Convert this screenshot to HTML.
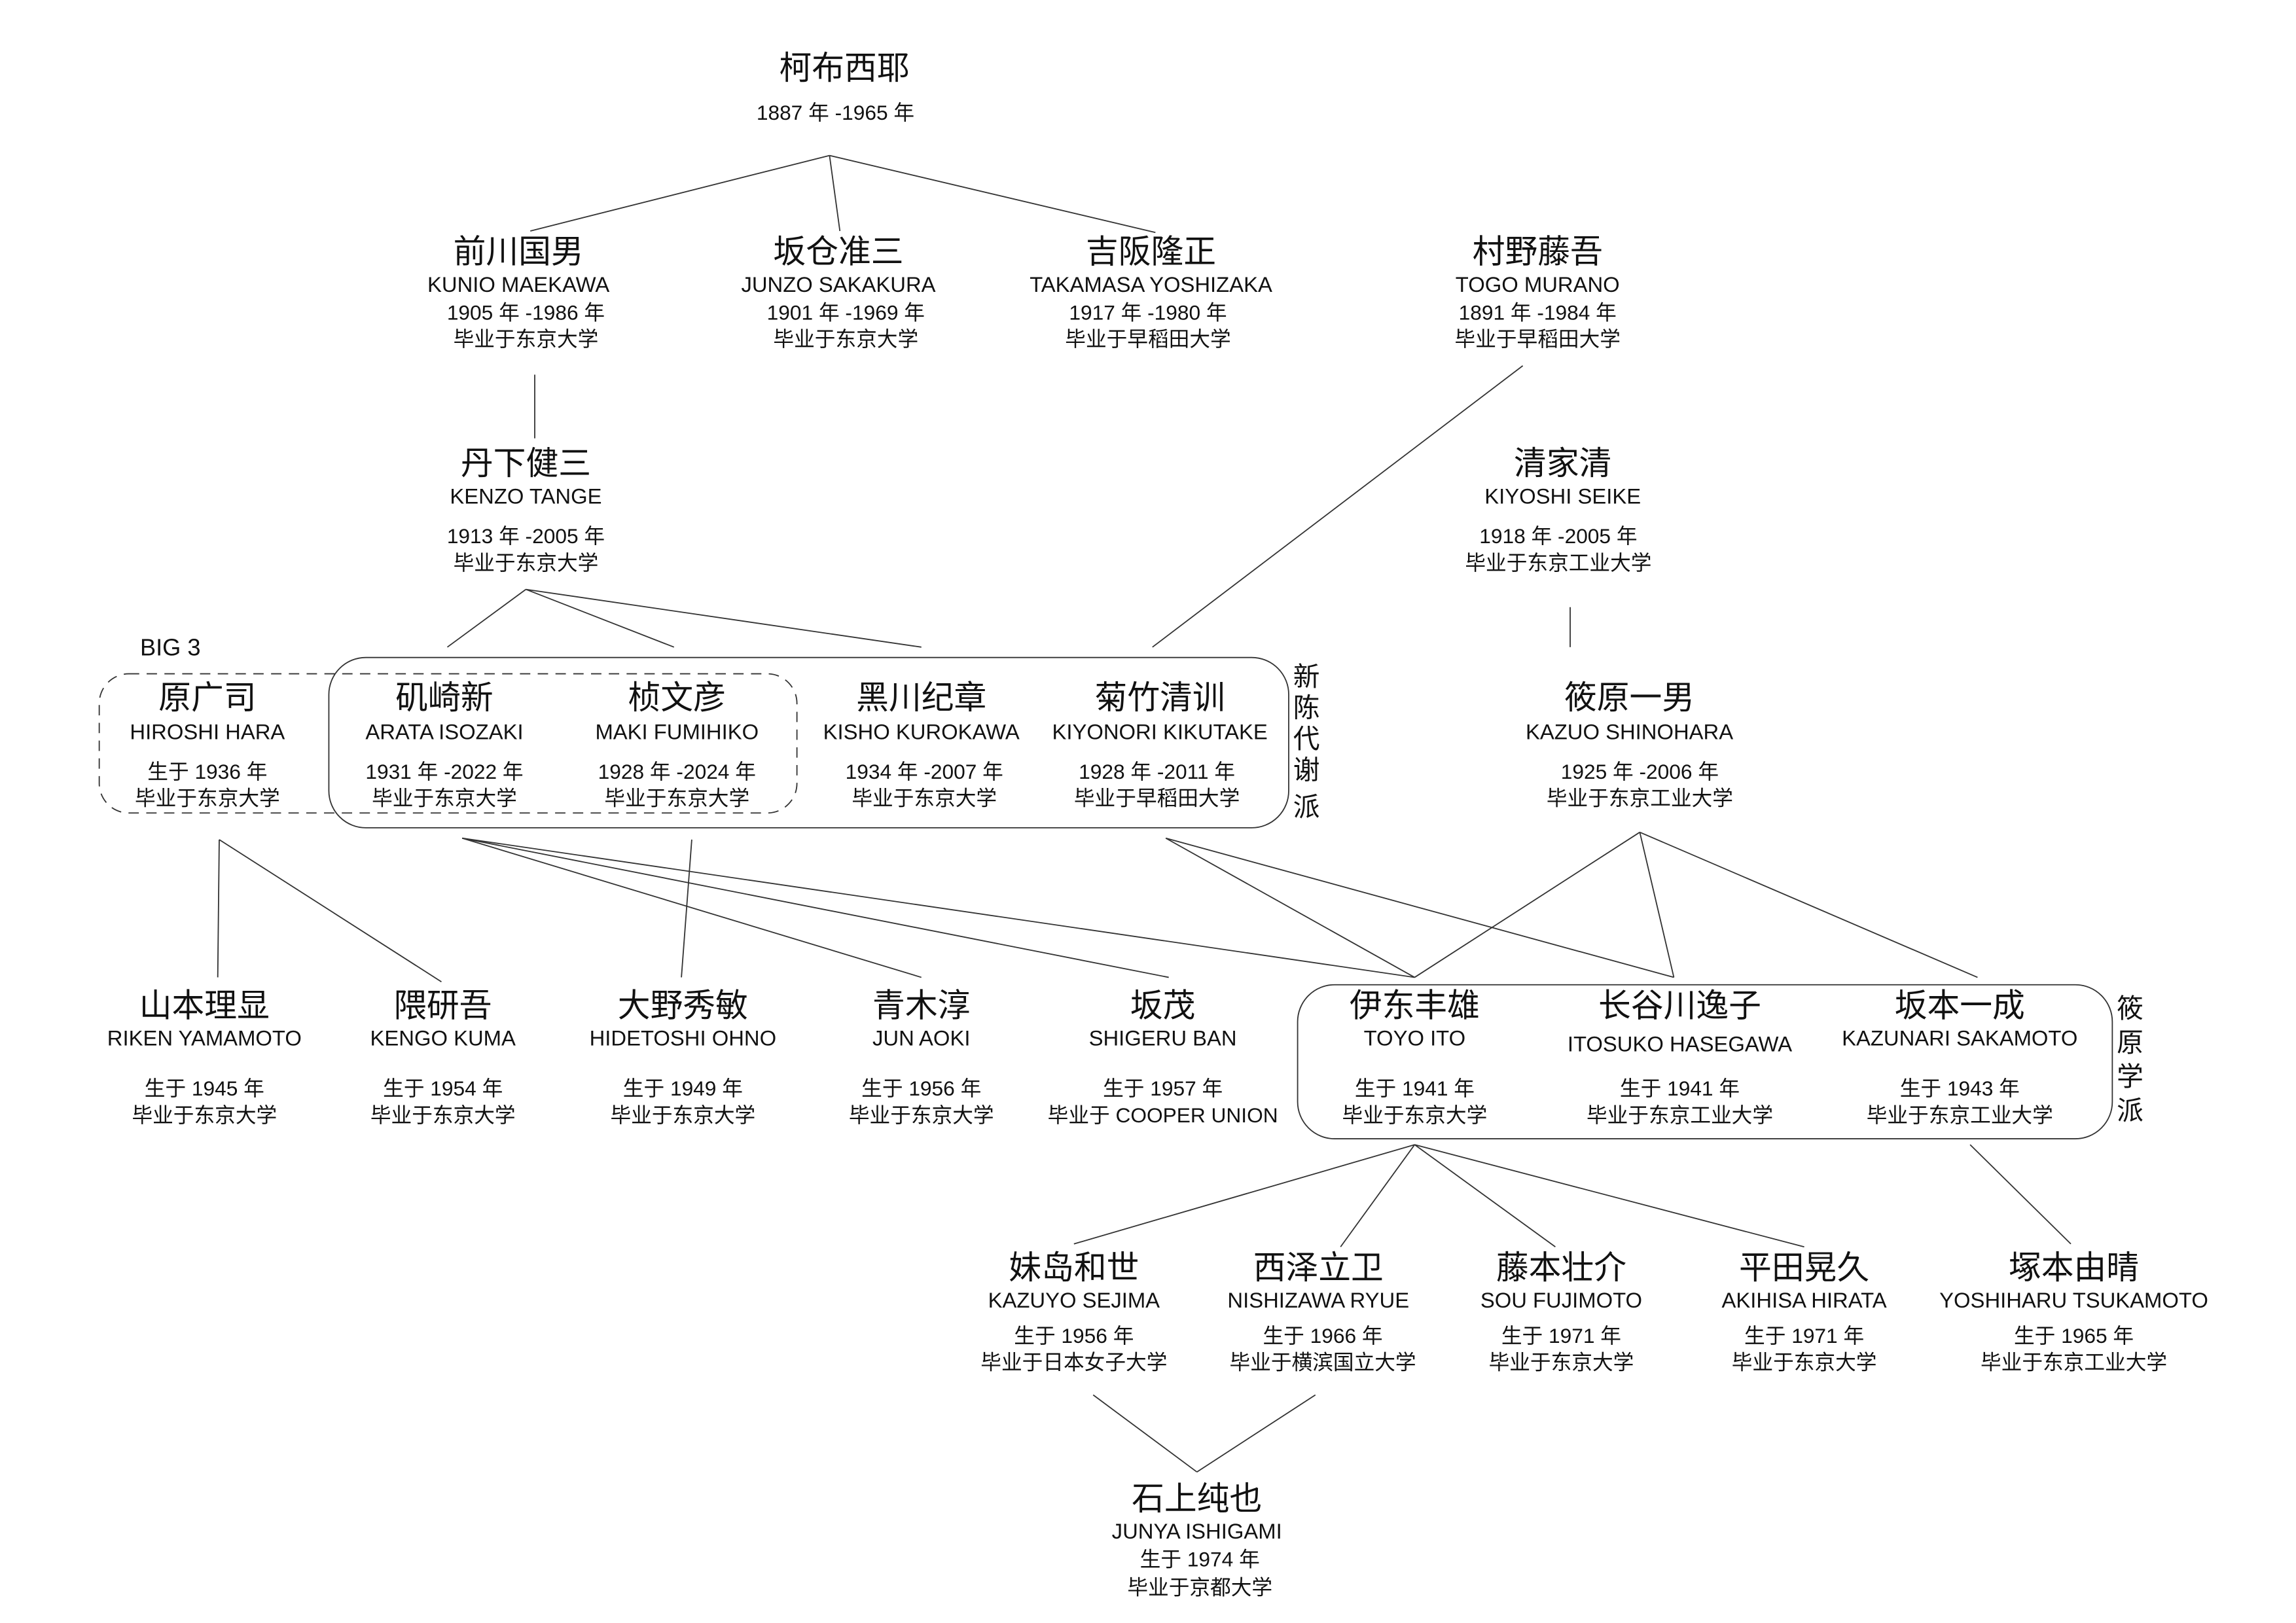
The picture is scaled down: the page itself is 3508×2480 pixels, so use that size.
<!DOCTYPE html>
<html><head><meta charset="utf-8"><style>
html,body{margin:0;padding:0;background:#fff;}
svg{display:block}
text{font-family:"Liberation Sans","Noto Sans CJK SC",sans-serif;fill:#111;text-anchor:middle;dominant-baseline:central}
.n{font-size:22px}
.r{font-size:14.5px}
.d{font-size:14px}
line,path,rect{stroke:#333;stroke-width:0.8;fill:none}
</style></head><body>
<svg width="3508" height="2480" viewBox="0 0 1550 1096" preserveAspectRatio="none" xmlns="http://www.w3.org/2000/svg">
<!-- lines -->
<line x1="560" y1="105" x2="358" y2="156"/>
<line x1="560" y1="105" x2="567" y2="156"/>
<line x1="560" y1="105" x2="780" y2="157"/>
<line x1="361" y1="253" x2="361" y2="296"/>
<line x1="355" y1="398" x2="302" y2="437"/>
<line x1="355" y1="398" x2="455" y2="437"/>
<line x1="355" y1="398" x2="622" y2="437"/>
<line x1="1028" y1="247" x2="778" y2="437"/>
<line x1="1060" y1="410" x2="1060" y2="437"/>
<line x1="148" y1="567" x2="147" y2="660"/>
<line x1="148" y1="567" x2="298" y2="663"/>
<line x1="467" y1="567" x2="460" y2="660"/>
<line x1="312" y1="566" x2="622" y2="660"/>
<line x1="312" y1="566" x2="789" y2="660"/>
<line x1="312" y1="566" x2="955" y2="660"/>
<line x1="787" y1="566" x2="955" y2="660"/>
<line x1="787" y1="566" x2="1130" y2="660"/>
<line x1="1107" y1="562" x2="955" y2="660"/>
<line x1="1107" y1="562" x2="1130" y2="660"/>
<line x1="1107" y1="562" x2="1335" y2="660"/>
<line x1="955" y1="773" x2="725" y2="840"/>
<line x1="955" y1="773" x2="905" y2="842"/>
<line x1="955" y1="773" x2="1050" y2="842"/>
<line x1="955" y1="773" x2="1218" y2="842"/>
<line x1="1330" y1="773" x2="1398" y2="840"/>
<line x1="738" y1="942" x2="808" y2="994"/>
<line x1="888" y1="942" x2="808" y2="994"/>
<!-- boxes -->
<rect x="67" y="455" width="471" height="94" rx="20" stroke-dasharray="7,5"/>
<rect x="222" y="444" width="648" height="115" rx="25"/>
<rect x="876" y="665" width="550" height="104" rx="25"/>
<text x="115" y="437" class="r" style="font-size:16px">BIG 3</text>
<g class="n" style="font-size:18px">
<text x="882" y="457">新</text><text x="882" y="478">陈</text><text x="882" y="499">代</text><text x="882" y="520">谢</text><text x="882" y="545">派</text>
<text x="1438" y="681">筱</text><text x="1438" y="704">原</text><text x="1438" y="727">学</text><text x="1438" y="750">派</text>
</g>
<!-- top -->
<text x="570" y="46" class="n">柯布西耶</text>
<text x="564" y="76" class="d">1887 年 -1965 年</text>
<!-- row 2 -->
<g>
<text x="350" y="170" class="n">前川国男</text><text x="350" y="192" class="r">KUNIO MAEKAWA</text><text x="355" y="211" class="d">1905 年 -1986 年</text><text x="355" y="229" class="d">毕业于东京大学</text>
<text x="566" y="170" class="n">坂仓准三</text><text x="566" y="192" class="r">JUNZO SAKAKURA</text><text x="571" y="211" class="d">1901 年 -1969 年</text><text x="571" y="229" class="d">毕业于东京大学</text>
<text x="777" y="170" class="n">吉阪隆正</text><text x="777" y="192" class="r">TAKAMASA YOSHIZAKA</text><text x="775" y="211" class="d">1917 年 -1980 年</text><text x="775" y="229" class="d">毕业于早稻田大学</text>
<text x="1038" y="170" class="n">村野藤吾</text><text x="1038" y="192" class="r">TOGO MURANO</text><text x="1038" y="211" class="d">1891 年 -1984 年</text><text x="1038" y="229" class="d">毕业于早稻田大学</text>
</g>
<!-- row 2b -->
<text x="355" y="313" class="n">丹下健三</text><text x="355" y="335" class="r">KENZO TANGE</text><text x="355" y="362" class="d">1913 年 -2005 年</text><text x="355" y="380" class="d">毕业于东京大学</text>
<text x="1055" y="313" class="n">清家清</text><text x="1055" y="335" class="r">KIYOSHI SEIKE</text><text x="1052" y="362" class="d">1918 年 -2005 年</text><text x="1052" y="380" class="d">毕业于东京工业大学</text>
<!-- row 3 -->
<text x="140" y="471" class="n">原广司</text><text x="140" y="494" class="r">HIROSHI HARA</text><text x="140" y="521" class="d">生于 1936 年</text><text x="140" y="539" class="d">毕业于东京大学</text>
<text x="300" y="471" class="n">矶崎新</text><text x="300" y="494" class="r">ARATA ISOZAKI</text><text x="300" y="521" class="d">1931 年 -2022 年</text><text x="300" y="539" class="d">毕业于东京大学</text>
<text x="457" y="471" class="n">桢文彦</text><text x="457" y="494" class="r">MAKI FUMIHIKO</text><text x="457" y="521" class="d">1928 年 -2024 年</text><text x="457" y="539" class="d">毕业于东京大学</text>
<text x="622" y="471" class="n">黑川纪章</text><text x="622" y="494" class="r">KISHO KUROKAWA</text><text x="624" y="521" class="d">1934 年 -2007 年</text><text x="624" y="539" class="d">毕业于东京大学</text>
<text x="783" y="471" class="n">菊竹清训</text><text x="783" y="494" class="r">KIYONORI KIKUTAKE</text><text x="781" y="521" class="d">1928 年 -2011 年</text><text x="781" y="539" class="d">毕业于早稻田大学</text>
<text x="1100" y="471" class="n">筱原一男</text><text x="1100" y="494" class="r">KAZUO SHINOHARA</text><text x="1107" y="521" class="d">1925 年 -2006 年</text><text x="1107" y="539" class="d">毕业于东京工业大学</text>
<!-- row 4 -->
<text x="138" y="679" class="n">山本理显</text><text x="138" y="701" class="r">RIKEN YAMAMOTO</text><text x="138" y="735" class="d">生于 1945 年</text><text x="138" y="753" class="d">毕业于东京大学</text>
<text x="299" y="679" class="n">隈研吾</text><text x="299" y="701" class="r">KENGO KUMA</text><text x="299" y="735" class="d">生于 1954 年</text><text x="299" y="753" class="d">毕业于东京大学</text>
<text x="461" y="679" class="n">大野秀敏</text><text x="461" y="701" class="r">HIDETOSHI OHNO</text><text x="461" y="735" class="d">生于 1949 年</text><text x="461" y="753" class="d">毕业于东京大学</text>
<text x="622" y="679" class="n">青木淳</text><text x="622" y="701" class="r">JUN AOKI</text><text x="622" y="735" class="d">生于 1956 年</text><text x="622" y="753" class="d">毕业于东京大学</text>
<text x="785" y="679" class="n">坂茂</text><text x="785" y="701" class="r">SHIGERU BAN</text><text x="785" y="735" class="d">生于 1957 年</text><text x="785" y="753" class="d">毕业于 COOPER UNION</text>
<text x="955" y="679" class="n">伊东丰雄</text><text x="955" y="701" class="r">TOYO ITO</text><text x="955" y="735" class="d">生于 1941 年</text><text x="955" y="753" class="d">毕业于东京大学</text>
<text x="1134" y="679" class="n">长谷川逸子</text><text x="1134" y="705" class="r">ITOSUKO HASEGAWA</text><text x="1134" y="735" class="d">生于 1941 年</text><text x="1134" y="753" class="d">毕业于东京工业大学</text>
<text x="1323" y="679" class="n">坂本一成</text><text x="1323" y="701" class="r">KAZUNARI SAKAMOTO</text><text x="1323" y="735" class="d">生于 1943 年</text><text x="1323" y="753" class="d">毕业于东京工业大学</text>
<!-- row 5 -->
<text x="725" y="856" class="n">妹岛和世</text><text x="725" y="878" class="r">KAZUYO SEJIMA</text><text x="725" y="902" class="d">生于 1956 年</text><text x="725" y="920" class="d">毕业于日本女子大学</text>
<text x="890" y="856" class="n">西泽立卫</text><text x="890" y="878" class="r">NISHIZAWA RYUE</text><text x="893" y="902" class="d">生于 1966 年</text><text x="893" y="920" class="d">毕业于横滨国立大学</text>
<text x="1054" y="856" class="n">藤本壮介</text><text x="1054" y="878" class="r">SOU FUJIMOTO</text><text x="1054" y="902" class="d">生于 1971 年</text><text x="1054" y="920" class="d">毕业于东京大学</text>
<text x="1218" y="856" class="n">平田晃久</text><text x="1218" y="878" class="r">AKIHISA HIRATA</text><text x="1218" y="902" class="d">生于 1971 年</text><text x="1218" y="920" class="d">毕业于东京大学</text>
<text x="1400" y="856" class="n">塚本由晴</text><text x="1400" y="878" class="r">YOSHIHARU TSUKAMOTO</text><text x="1400" y="902" class="d">生于 1965 年</text><text x="1400" y="920" class="d">毕业于东京工业大学</text>
<!-- row 6 -->
<text x="808" y="1012" class="n">石上纯也</text><text x="808" y="1034" class="r">JUNYA ISHIGAMI</text><text x="810" y="1053" class="d">生于 1974 年</text><text x="810" y="1072" class="d">毕业于京都大学</text>
</svg>
</body></html>
